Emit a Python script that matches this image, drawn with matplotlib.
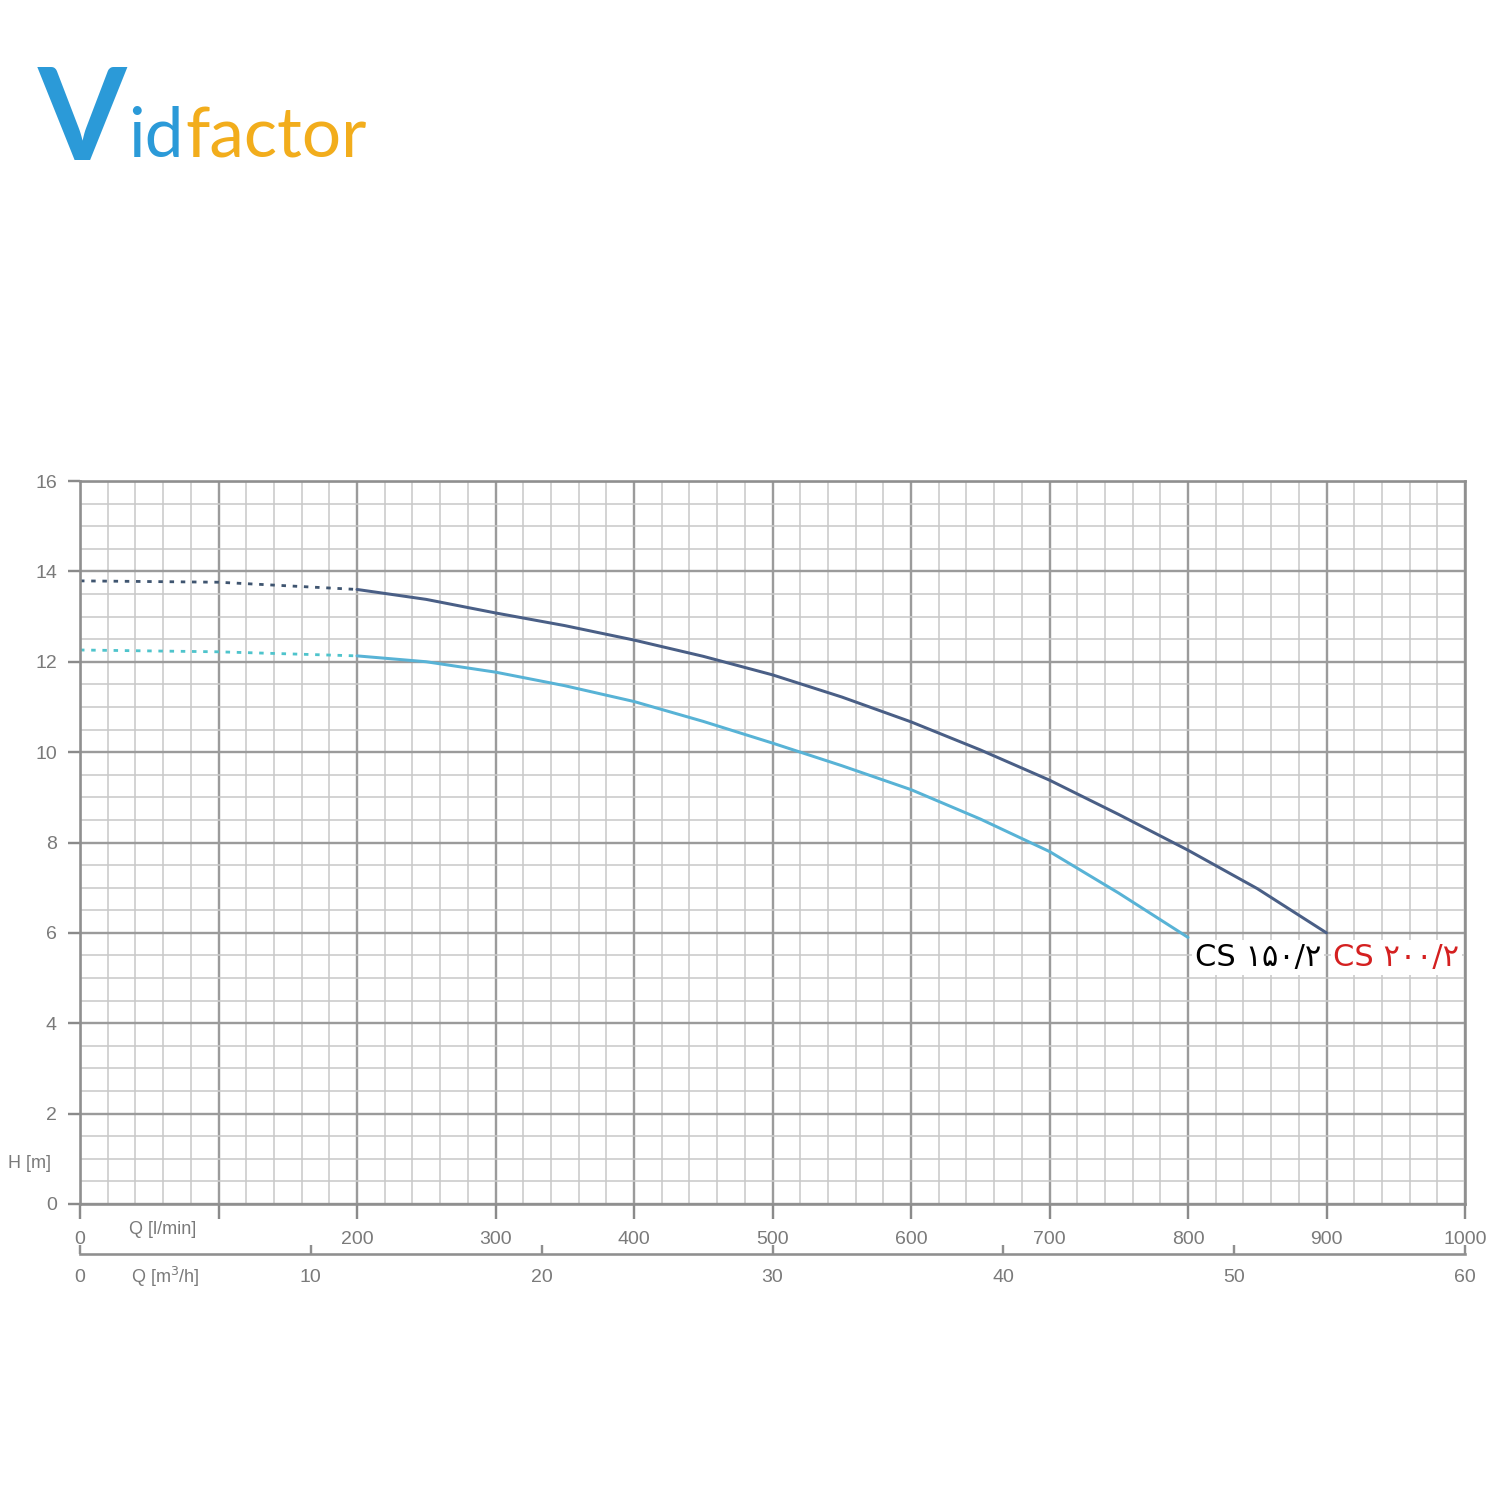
import matplotlib
matplotlib.use("Agg")
import matplotlib.pyplot as plt
from matplotlib.ticker import MultipleLocator

# ---- data ----
q_dash = [0, 100, 200]
h200_dash = [13.79, 13.76, 13.60]
h150_dash = [12.26, 12.22, 12.13]

q200 = [200, 250, 300, 350, 400, 450, 500, 550, 600, 650, 700, 750, 800, 850, 900]
h200 = [13.60, 13.38, 13.08, 12.80, 12.48, 12.12, 11.71, 11.22, 10.67, 10.05, 9.38, 8.62, 7.83, 6.98, 6.00]

q150 = [200, 250, 300, 350, 400, 450, 500, 550, 600, 650, 700, 750, 800]
h150 = [12.13, 12.00, 11.77, 11.47, 11.12, 10.68, 10.20, 9.70, 9.17, 8.52, 7.80, 6.88, 5.90]

x_ticks_lmin = [0, 100, 200, 300, 400, 500, 600, 700, 800, 900, 1000]
x_ticklabels_lmin = ["0", "", "200", "300", "400", "500", "600", "700", "800", "900", "1000"]
y_ticks = [0, 2, 4, 6, 8, 10, 12, 14, 16]
x_ticks_m3h = [0, 10, 20, 30, 40, 50, 60]

label_150 = "CS ۱۵۰/۲"
label_200 = "CS ۲۰۰/۲"

PX = 0.72  # points per pixel at dpi 100
TICKFONT = "Liberation Sans"
GRAY_TXT = "#7a7a7a"

fig = plt.figure(figsize=(15, 15), dpi=100)
fig.patch.set_facecolor("white")

L, R, B, T = 80 / 1500, 1465 / 1500, 1 - 1204 / 1500, 1 - 481 / 1500
ax = fig.add_axes([L, B, R - L, T - B])
ax.set_xlim(0, 1000)
ax.set_ylim(0, 16)

ax.xaxis.set_major_locator(MultipleLocator(100))
ax.xaxis.set_minor_locator(MultipleLocator(20))
ax.yaxis.set_major_locator(MultipleLocator(2))
ax.yaxis.set_minor_locator(MultipleLocator(0.5))
ax.grid(which="major", color="#9b9b9b", lw=2.4 * PX)
ax.grid(which="minor", color="#cacaca", lw=1.6 * PX)
ax.set_axisbelow(True)

ax.set_xticks(x_ticks_lmin)
ax.set_xticklabels(x_ticklabels_lmin)
ax.set_yticks(y_ticks)
ax.tick_params(which="minor", length=0)
ax.tick_params(axis="x", which="major", direction="out", length=15 * PX, width=2.4 * PX,
               color="#8a8a8a", labelsize=14, labelcolor=GRAY_TXT, pad=9)
ax.tick_params(axis="y", which="major", direction="out", length=12 * PX, width=2.4 * PX,
               color="#8a8a8a", labelsize=14, labelcolor=GRAY_TXT, pad=8)
for lab in ax.get_xticklabels() + ax.get_yticklabels():
    lab.set_family(TICKFONT)
for s in ax.spines.values():
    s.set_color("#8f8f8f")
    s.set_linewidth(2.6 * PX)

# curves
ax.plot(q_dash, h200_dash, color="#3f5570", lw=2.8 * PX, ls=(0, (1.6, 2.4)))
ax.plot(q200, h200, color="#4a5f86", lw=3.0 * PX, solid_capstyle="round")
ax.plot(q_dash, h150_dash, color="#4fc4cc", lw=2.8 * PX, ls=(0, (1.6, 2.4)))
ax.plot(q150, h150, color="#58b3d6", lw=3.0 * PX, solid_capstyle="round")

# labels of the curves
ax.text(q150[-1] + 5, 5.45, label_150, fontsize=22, color="black",
        family=["DejaVu Sans"], ha="left", va="center",
        bbox=dict(facecolor="white", edgecolor="none", pad=2))
ax.text(q200[-1] + 5, 5.45, label_200, fontsize=22, color="#d42020",
        family=["DejaVu Sans"], ha="left", va="center",
        bbox=dict(facecolor="white", edgecolor="none", pad=2))

# axis titles
fig.text(163 / 1500, 1 - 1230 / 1500, "Q [l/min]", fontsize=13, color=GRAY_TXT,
         family=TICKFONT, ha="center", va="center")
fig.text(30 / 1500, 1 - 1163 / 1500, "H [m]", fontsize=13, color=GRAY_TXT,
         family=TICKFONT, ha="center", va="center")

# secondary flow axis (m3/h)
y2 = 1 - 1252 / 1500
ax2 = fig.add_axes([L, y2 - 0.001, R - L, 0.002])
ax2.set_xlim(0, 60)
ax2.set_yticks([])
ax2.patch.set_alpha(0)
for k in ["top", "left", "right"]:
    ax2.spines[k].set_visible(False)
ax2.spines["bottom"].set_color("#8f8f8f")
ax2.spines["bottom"].set_linewidth(2.6 * PX)
ax2.set_xticks(x_ticks_m3h)
ax2.tick_params(axis="x", direction="in", length=9 * PX, width=2.4 * PX, color="#8f8f8f",
                labelsize=14, labelcolor=GRAY_TXT, pad=11)
for lab in ax2.get_xticklabels():
    lab.set_family(TICKFONT)
fig.text(165 / 1500, 1 - 1277 / 1500, r"Q [m$^{3}$/h]", fontsize=13, color=GRAY_TXT,
         family=TICKFONT, ha="center", va="center")

# logo
fig.text(38 / 1500, 1 - 160 / 1500, "V", fontsize=92, color="#2b9ad8",
         family="Lato", fontweight="bold", ha="left", va="baseline")
t_id = fig.text(128 / 1500, 1 - 157 / 1500, "id", fontsize=50, color="#2b9ad8",
                family="Lato", ha="left", va="baseline")
fig.canvas.draw()
bb = t_id.get_window_extent(renderer=fig.canvas.get_renderer())
fig.text(bb.x1 / 1500 + 0.001, 1 - 157 / 1500, "factor", fontsize=50, color="#f2ad1c",
         family="Lato", ha="left", va="baseline")

fig.savefig("out.png", dpi=100, facecolor="white")
